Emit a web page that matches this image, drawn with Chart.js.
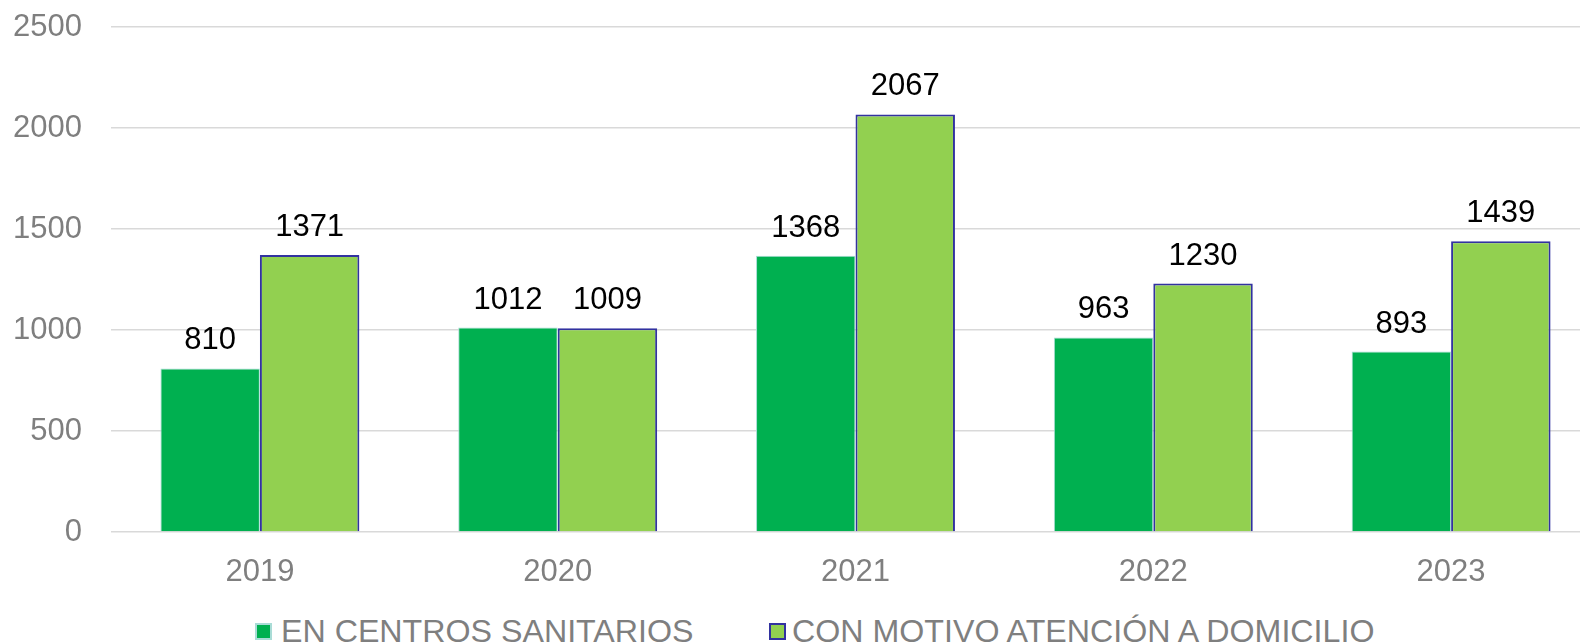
<!DOCTYPE html>
<html>
<head>
<meta charset="utf-8">
<script src="https://cdn.jsdelivr.net/npm/chart.js@4"></script>
<style>
  html, body { margin: 0; padding: 0; background: #ffffff; overflow: hidden; width: 1580px; height: 644px; }
  #wrap { position: relative; width: 1580px; height: 644px; overflow: hidden; }
  #c { position: absolute; left: 0; top: 0; }
  .leg { position: absolute; top: 611px; height: 40px; display: flex; align-items: center;
         font-family: "Liberation Sans", Arial, sans-serif; font-size: 32.2px; color: #7f7f7f; white-space: nowrap; }
  .box { width: 17px; height: 17px; box-sizing: border-box; margin-right: 9px; }
</style>
</head>
<body>
<div id="wrap">
  <canvas id="c" width="1600" height="600"></canvas>
  <div class="leg" id="leg1" style="left:255px;"><div class="box" style="background:#00b050;border:2px solid #a9dcd6;"></div><span id="t1"></span></div>
  <div class="leg" id="leg2" style="left:769px;"><div class="box" style="background:#92d050;border:2px solid #3232a0;margin-right:6px;"></div><span id="t2"></span></div>
</div>
<script>
const categories = ["2019", "2020", "2021", "2022", "2023"];
const seriesNames = ["EN CENTROS SANITARIOS", "CON MOTIVO ATENCIÓN A DOMICILIO"];
const centrosValues = [810, 1012, 1368, 963, 893];
const domicilioValues = [1371, 1009, 2067, 1230, 1439];
const yTicks = [0, 500, 1000, 1500, 2000, 2500];

document.getElementById('t1').textContent = seriesNames[0];
document.getElementById('t2').textContent = seriesNames[1];

const FONT = '"Liberation Sans", Arial, sans-serif';
Chart.defaults.font.family = FONT;

const valueLabels = {
  id: 'valueLabels',
  afterDatasetsDraw(chart) {
    const ctx = chart.ctx;
    ctx.save();
    ctx.fillStyle = '#000000';
    ctx.font = '31px ' + FONT;
    ctx.textAlign = 'center';
    ctx.textBaseline = 'alphabetic';
    chart.data.datasets.forEach((ds, di) => {
      const meta = chart.getDatasetMeta(di);
      meta.data.forEach((el, i) => {
        ctx.fillText(String(ds.data[i]), el.x, el.y - 19);
      });
    });
    ctx.restore();
  }
};

new Chart(document.getElementById('c'), {
  type: 'bar',
  data: {
    labels: categories,
    datasets: [
      {
        label: seriesNames[0],
        data: centrosValues,
        backgroundColor: '#00b050',
        borderColor: '#a9dcd6',
        borderWidth: 1,
        categoryPercentage: 0.668,
        barPercentage: 1.0
      },
      {
        label: seriesNames[1],
        data: domicilioValues,
        backgroundColor: '#92d050',
        borderColor: '#3232a0',
        borderWidth: 2,
        categoryPercentage: 0.668,
        barPercentage: 1.0
      }
    ]
  },
  options: {
    responsive: false,
    animation: false,
    layout: { padding: { top: 27, left: 0, right: 0, bottom: 12 } },
    plugins: {
      legend: { display: false },
      tooltip: { enabled: false }
    },
    scales: {
      x: {
        afterFit(scale) { scale.height = 56; scale.paddingTop = 0; scale.paddingBottom = 0; },
        grid: { display: false, drawTicks: false },
        border: { display: false },
        ticks: { color: '#7f7f7f', font: { size: 31 }, padding: 22 }
      },
      y: {
        min: 0,
        max: 2500,
        afterFit(scale) { scale.width = 111; scale.paddingTop = 0; scale.paddingBottom = 0; },
        afterBuildTicks(scale) { scale.ticks = yTicks.map(v => ({ value: v })); },
        grid: { color: '#d9d9d9', lineWidth: 1.5, drawTicks: false },
        border: { display: false },
        ticks: { color: '#7f7f7f', font: { size: 31 }, padding: 29, callback: v => String(v) }
      }
    }
  },
  plugins: [valueLabels]
});
</script>
</body>
</html>
